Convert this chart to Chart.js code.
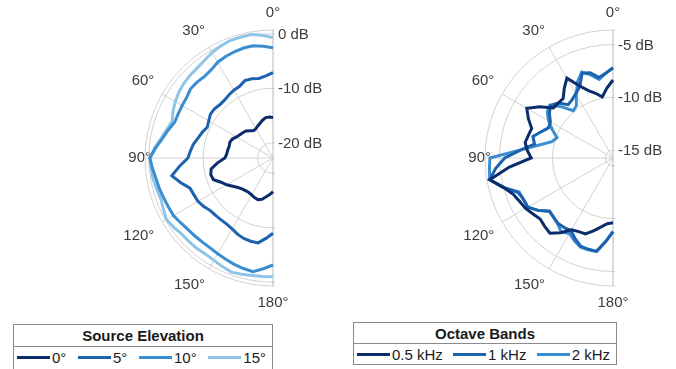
<!DOCTYPE html>
<html>
<head>
<meta charset="utf-8">
<script src="https://cdn.jsdelivr.net/npm/chart.js@4.4.1/dist/chart.umd.min.js"></script>
<style>
  html, body { margin: 0; padding: 0; width: 676px; height: 369px; overflow: hidden; background: #fff; }
  body { position: relative; font-family: 'Liberation Sans', Arial, sans-serif; }
  .plot { position: absolute; }
  .legend { position: absolute; box-sizing: border-box; border: 1px solid #8a8a8a; background: #fff; color: #1a1a1a; font-size: 15px; }
  .legend .ttl { box-sizing: border-box; border-bottom: 1px solid #8a8a8a; text-align: center; font-weight: bold; }
  .legend .row { display: flex; justify-content: space-between; align-items: center; box-sizing: border-box; }
  .legend .it { display: flex; align-items: center; white-space: nowrap; }
  .legend .sw { display: inline-block; width: 33px; height: 3px; margin-right: 2px; }
</style>
</head>
<body>
<canvas id="c1" class="plot" width="360" height="308" style="left:93px;top:4px;"></canvas>
<canvas id="c2" class="plot" width="360" height="308" style="left:433px;top:4px;"></canvas>
<div id="lg1" class="legend" style="left:13px;top:324px;width:260px;height:48px;"></div>
<div id="lg2" class="legend" style="left:353px;top:322px;width:264px;height:43px;"></div>
<script>
// ---- data (angle in degrees, level in dB) ----
const angles = [0,5,10,15,20,25,30,35,40,45,50,55,60,65,70,75,80,85,90,95,100,105,110,115,120,125,130,135,140,145,150,155,160,165,170,175,180];
const angleTicks = [0,30,60,90,120,150,180];

// Source elevation (left plot)
const elevLabels = ['0°','5°','10°','15°'];
const elev0  = [-15.4,-15.3,-15.3,-15.6,-16.0,-16.3,-16.6,-16.7,-16.3,-15.8,-15.6,-15.4,-15.1,-14.6,-14.4,-14.5,-14.4,-14.3,-14.0,-12.6,-11.3,-11.0,-11.2,-12.3,-13.0,-13.8,-14.4,-14.8,-15.0,-15.1,-15.0,-14.8,-14.7,-15.0,-15.6,-16.1,-16.65];
const elev5  = [-7.15,-7.7,-8.0,-7.75,-7.7,-8.3,-8.45,-8.7,-8.95,-9.0,-8.8,-8.8,-9.2,-9.5,-9.0,-8.6,-8.0,-7.6,-7.2,-5.6,-3.95,-5.3,-6.6,-6.8,-6.9,-7.3,-7.8,-7.9,-8.0,-8.0,-7.8,-7.4,-7.1,-7.0,-7.0,-8.0,-9.0];
const elev10 = [-2.55,-2.2,-1.87,-1.9,-2.05,-2.25,-2.5,-3.05,-3.25,-3.1,-3.05,-3.45,-3.55,-3.6,-3.6,-2.9,-2.2,-1.2,-0.2,-0.6,-1.0,-1.2,-1.45,-1.6,-1.7,-2.1,-2.4,-2.55,-2.65,-2.67,-2.5,-2.3,-2.0,-1.8,-1.6,-2.4,-3.16];
const elev15 = [-0.7,-0.2,0.24,0.2,0.15,-0.1,-0.45,-0.9,-1.2,-1.3,-1.45,-1.7,-2.1,-2.55,-3.1,-2.6,-1.95,-1.0,-0.2,-0.35,-0.46,-0.7,-0.9,-0.6,-0.2,-0.6,-1.0,-1.05,-1.1,-1.25,-1.1,-0.8,-0.5,-0.7,-0.9,-0.95,-1.0];
const elevTicks = [-20,-10,0];
const elevRange = [-22.85, 0.7];

// Octave bands (right plot)
const bandLabels = ['0.5 kHz','1 kHz','2 kHz'];
const band05 = [-8.36,-9.1,-9.87,-9.4,-8.95,-8.2,-7.02,-7.7,-8.4,-8.4,-8.37,-7.3,-6.32,-6.9,-7.55,-7.45,-7.3,-7.6,-8.0,-5.9,-3.9,-5.0,-5.7,-6.0,-6.2,-6.5,-6.75,-6.6,-6.45,-7.1,-7.9,-8.05,-8.1,-8.6,-9.1,-9.5,-9.62];
const band1  = [-7.2,-7.7,-8.0,-7.4,-7.2,-8.3,-8.7,-9.0,-9.15,-8.4,-8.0,-8.4,-8.9,-9.0,-8.5,-7.9,-8.2,-7.0,-5.5,-4.6,-3.9,-5.0,-6.2,-6.42,-6.42,-7.1,-7.9,-7.8,-7.66,-7.7,-7.8,-7.3,-6.85,-6.8,-6.77,-7.8,-8.77];
const band2  = [-7.2,-7.7,-8.2,-7.6,-7.1,-7.8,-8.8,-9.7,-9.9,-8.9,-7.95,-8.15,-8.7,-9.4,-10.1,-9.76,-8.65,-6.96,-4.1,-4.0,-3.9,-5.0,-6.3,-6.4,-6.45,-7.1,-7.9,-7.8,-7.6,-7.2,-7.5,-7.1,-6.75,-6.75,-6.77,-7.8,-8.77];
const bandTicks = [-15,-10,-5];
const bandRange = [-15.74, -3.63];

const colors4 = ['#0c2d6c','#1c62ae','#3a8dd0','#8ec4e7'];

// ---- helpers ----
const FONT = "'Liberation Sans', Arial, sans-serif";
Chart.defaults.font.family = FONT;
Chart.defaults.font.size = 15;
Chart.defaults.color = '#3c3c3c';

const step = angles[1] - angles[0];
const nSpokes = Math.round(360 / step);
// radar index i runs clockwise from the bottom (180°) -> left (90°) -> top (0°)
function thetaOf(i) { return 180 - i * step; }
const radarLabels = Array.from({length: nSpokes}, (_, i) => {
  const t = thetaOf(i);
  return angleTicks.includes(t) ? t + '°' : '';
});
function toRadar(series) {
  return Array.from({length: nSpokes}, (_, i) => {
    const k = angles.indexOf(thetaOf(i));
    return k >= 0 ? series[k] : null;
  });
}

const halfPolar = {
  id: 'halfPolar',
  beforeDraw(chart) {
    const s = chart.scales.r, ctx = chart.ctx;
    const xc = s.xCenter, yc = s.yCenter, R = s.drawingArea;
    ctx.save();
    ctx.beginPath();
    ctx.rect(0, 0, xc + 2, chart.height);
    ctx.rect(xc + 2, 0, 40, yc - R - 2);
    ctx.rect(xc + 2, yc + R + 2, 40, chart.height);
    ctx.clip();
  },
  afterDatasetsDraw(chart) { chart.ctx.restore(); },
  afterDraw(chart, args, opts) {
    const s = chart.scales.r, ctx = chart.ctx;
    ctx.save();
    ctx.font = '15px ' + FONT;
    ctx.fillStyle = '#3c3c3c';
    ctx.textAlign = 'left';
    ctx.textBaseline = 'middle';
    opts.values.forEach(v => {
      const y = s.yCenter - s.getDistanceFromCenterForValue(v);
      ctx.fillText(v + ' dB', s.xCenter + 5, y + 1);
    });
    ctx.restore();
  }
};

function makeChart(id, seriesList, names, ticks, range) {
  const ds = seriesList.map((s, j) => ({
    label: names[j],
    data: toRadar(s),
    borderColor: colors4[j],
    backgroundColor: colors4[j],
    borderWidth: 3,
    fill: false,
    pointRadius: 0,
    pointHitRadius: 0,
    tension: 0,
    spanGaps: false
  }));
  return new Chart(document.getElementById(id), {
    type: 'radar',
    data: { labels: radarLabels, datasets: ds },
    plugins: [halfPolar],
    options: {
      responsive: false,
      animation: false,
      devicePixelRatio: 1,
      events: [],
      layout: { padding: 0 },
      plugins: {
        legend: { display: false },
        tooltip: { enabled: false },
        halfPolar: { values: ticks }
      },
      scales: {
        r: {
          min: range[0],
          max: range[1],
          startAngle: 180,
          afterBuildTicks: (scale) => {
            scale.ticks = [scale.min, ...ticks, scale.max].map(v => ({ value: v }));
          },
          ticks: { display: false },
          grid: {
            circular: true,
            lineWidth: 1,
            color: (ctx) => ctx.index === 0 ? 'rgba(0,0,0,0)' : '#d2d2d2'
          },
          angleLines: {
            lineWidth: 1,
            color: (ctx) => {
              const t = thetaOf(ctx.index);
              if (t < 0 || t % 30 !== 0) return 'rgba(0,0,0,0)';
              return (t === 0 || t === 180) ? '#b8b8b8' : '#d2d2d2';
            }
          },
          pointLabels: {
            color: '#3c3c3c',
            font: (ctx) => ({ family: FONT, size: ctx.label ? 15 : 1 }),
            padding: (ctx) => {
              if (!ctx.label) return 0;
              if (ctx.label === '90°') return -6;
              if (ctx.label === '60°' || ctx.label === '120°') return 9;
              return 8;
            }
          }
        }
      }
    }
  });
}

function htmlLegend(chart, el, title, rowStyle, titleH) {
  const items = Chart.defaults.plugins.legend.labels.generateLabels(chart);
  let h = '<div class="ttl" style="height:' + titleH + 'px;line-height:' + titleH + 'px;">' + title + '</div>';
  h += '<div class="row" style="' + rowStyle + '">';
  items.forEach(it => {
    h += '<span class="it"><span class="sw" style="background:' + it.strokeStyle + '"></span>' + it.text + '</span>';
  });
  h += '</div>';
  el.innerHTML = h;
}

const ch1 = makeChart('c1', [elev0, elev5, elev10, elev15], elevLabels, elevTicks, elevRange);
const ch2 = makeChart('c2', [band05, band1, band2], bandLabels, bandTicks, bandRange);
htmlLegend(ch1, document.getElementById('lg1'), 'Source Elevation', 'height:20px;padding:0 6px 0 3px;', 22);
htmlLegend(ch2, document.getElementById('lg2'), 'Octave Bands', 'height:20px;padding:0 6px 0 3px;', 21);
</script>
</body>
</html>
